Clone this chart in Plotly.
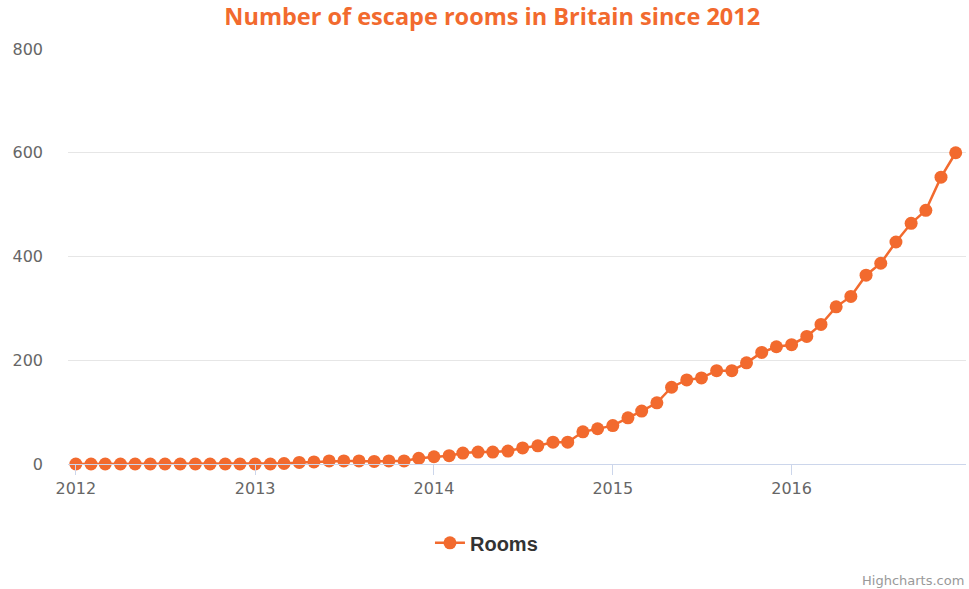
import plotly.graph_objects as go

# Monthly data, Jan 2012 - Dec 2016
months = [f"{y}-{m:02d}-01" for y in range(2012, 2017) for m in range(1, 13)]
rooms = [
    0, 0, 0, 0, 0, 0, 0, 0, 0, 0, 0, 0,            # 2012
    0, 0, 1, 3, 4, 6, 6, 6, 5, 6, 6, 11,           # 2013
    14, 16, 21, 23, 23, 25, 31, 35, 42, 42, 62, 68,  # 2014
    74, 89, 102, 118, 148, 162, 166, 180, 180, 195, 215, 226,  # 2015
    230, 246, 269, 303, 323, 364, 387, 428, 464, 489, 553, 600,  # 2016
]
series_name = "Rooms"
title_text = "Number of escape rooms in Britain since 2012"
y_ticks = [0, 200, 400, 600, 800]

ORANGE = "#F26A2E"

fig = go.Figure()
fig.add_trace(go.Scatter(
    x=months, y=rooms, name=f"<b>{series_name}</b>", mode="lines+markers",
    line=dict(color=ORANGE, width=2.5),
    marker=dict(color=ORANGE, size=13),
    cliponaxis=False,
))

fig.update_layout(
    width=969, height=589,
    margin=dict(l=68, r=3, t=49, b=125),
    paper_bgcolor="white", plot_bgcolor="white",
    title=dict(text=f"<b>{title_text}</b>", x=0.508, xanchor="center",
               y=1 - 17 / 589, yanchor="middle", yref="container",
               font=dict(family="Open Sans", size=23.5, color=ORANGE)),
    showlegend=True,
    legend=dict(orientation="h", x=0.466, xanchor="center", y=-0.19, yanchor="middle",
                font=dict(family="Liberation Sans", size=20, color="#333333"),
                itemwidth=30),
    xaxis=dict(
        type="date", range=["2011-12-16", "2016-12-22"],
        tickvals=["2012-01-01", "2013-01-01", "2014-01-01", "2015-01-01", "2016-01-01"],
        ticktext=["2012", "2013", "2014", "2015", "2016"],
        showgrid=False, showline=True, linecolor="#ccd6eb", linewidth=1,
        ticks="outside", ticklen=10, tickcolor="#ccd6eb",
        tickfont=dict(family="DejaVu Sans", size=16, color="#666666"),
        zeroline=False,
    ),
    yaxis=dict(
        range=[0, 800], tickvals=y_ticks,
        showgrid=True, gridcolor="#e6e6e6", gridwidth=1,
        zeroline=False, showline=False, ticks="", ticklabelstandoff=24,
        tickfont=dict(family="DejaVu Sans", size=16, color="#666666"),
    ),
    annotations=[dict(text="Highcharts.com", xref="paper", yref="paper",
                      x=1.0, y=-(580 - 464) / 415, xanchor="right", yanchor="middle",
                      showarrow=False, font=dict(family="DejaVu Sans", size=13, color="#999999"))],
)

fig.write_html("out.html")
